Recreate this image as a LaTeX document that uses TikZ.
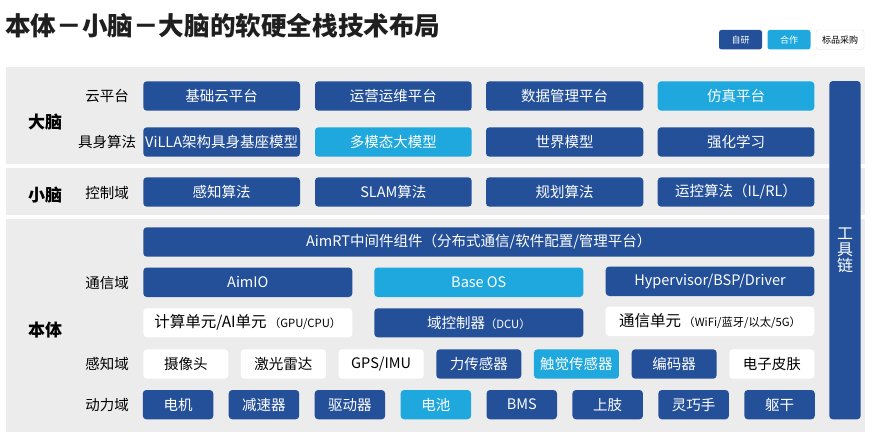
\documentclass[tikz,border=0pt]{standalone}
\usepackage{fontspec}
\setmainfont{Noto Sans CJK SC}
\definecolor{dkblue}{RGB}{36,80,153}
\definecolor{ltblue}{RGB}{31,168,221}
\definecolor{panelgray}{RGB}{236,236,236}
\newcommand\fsz[1]{\fontsize{#1}{#1}\selectfont}
\newcommand\bx[7]{%
  \pgfmathsetmacro\bw{#5-#3}\pgfmathsetmacro\bh{#6-#4}%
  \node[#2, minimum width=\bw pt, minimum height=\bh pt] (#1) at ({(#3+#5)/2},{(#4+#6)/2}) {#7};}
\tikzset{
  box/.style={rounded corners=3.5pt, inner sep=0pt, font=\fsz{14.5}},
  dk/.style={box, fill=dkblue, text=white},
  lt/.style={box, fill=ltblue, text=white},
  wt/.style={box, fill=white, text=black},
  panel/.style={fill=panelgray, draw=none},
  sublabel/.style={font=\fsz{14.5}, text=black, inner sep=0pt},
  biglabel/.style={font=\fsz{17}\bfseries, text=black, inner sep=0pt},
  legend/.style={rounded corners=2.5pt, inner sep=0pt, font=\fsz{9}, minimum width=43pt, minimum height=19.5pt}
}
\begin{document}
\begin{tikzpicture}[x=1pt,y=-1pt]
\useasboundingbox (0,0) rectangle (874,445);
% title
\node[anchor=west, font=\fsz{25.6}\bfseries, text=black!88, inner sep=0pt] (title) at (5,25.5) {本体－小脑－大脑的软硬全栈技术布局};
% legend
\node[legend, fill=dkblue, text=white] (lg1) at (740.5,39.7) {自研};
\node[legend, fill=ltblue, text=white] (lg2) at (789,39.7) {合作};
\node[legend, fill=white, draw=black!12, text=black, minimum width=48pt] (lg3) at (840,39.7) {标品采购};
% panels
\fill[panel] (6,67.3) rectangle (865,164);
\fill[panel] (6,168.3) rectangle (865,215);
\fill[panel] (6,219.3) rectangle (865,432.3);
% big labels
\node[biglabel] (Ldanao) at (45,121.7) {大脑};
\node[biglabel] (Lxiaonao) at (45,195) {小脑};
\node[biglabel] (Lbenti) at (45,330) {本体};
% sub labels
\node[sublabel] (s1) at (107,95.7) {云平台};
\node[sublabel] (s2) at (107,141.7) {具身算法};
\node[sublabel] (s3) at (107,192.5) {控制域};
\node[sublabel] (s4) at (107,283) {通信域};
\node[sublabel] (s5) at (107,364) {感知域};
\node[sublabel] (s6) at (107,405) {动力域};
% row 1
\bx{a1}{dk}{143.3}{81.3}{300}{110.7}{基础云平台}
\bx{a2}{dk}{315}{81.3}{471.7}{110.7}{运营运维平台}
\bx{a3}{dk}{486}{81.3}{643.3}{110.7}{数据管理平台}
\bx{a4}{lt}{657.7}{81.3}{814.3}{110.7}{仿真平台}
% row 2
\bx{b1}{dk}{143.3}{127.3}{300}{156.7}{ViLLA架构具身基座模型}
\bx{b2}{lt}{315}{127.3}{471.7}{156.7}{多模态大模型}
\bx{b3}{dk}{486}{127.3}{643.3}{156.7}{世界模型}
\bx{b4}{dk}{657.7}{127.3}{814.3}{156.7}{强化学习}
% row 3
\bx{c1}{dk}{143.3}{177.3}{300}{206.7}{感知算法}
\bx{c2}{dk}{315}{177.3}{471.7}{206.7}{SLAM算法}
\bx{c3}{dk}{486}{177.3}{643.3}{206.7}{规划算法}
\bx{c4}{dk}{657.7}{177.3}{814.3}{206.7}{运控算法（IL/RL）}
% row 4
\bx{d1}{dk}{143.3}{227.3}{814.3}{256.7}{AimRT中间件组件（分布式通信/软件配置/管理平台）}
% row 5
\bx{e1}{dk}{143.3}{267.5}{352.3}{297}{AimIO}
\bx{e2}{lt}{374.3}{267.5}{583.3}{297}{Base OS}
\bx{e3}{dk}{605.7}{266.5}{814.3}{296}{Hypervisor/BSP/Driver}
% row 6
\bx{f1}{wt}{143.3}{308.3}{352.3}{337.3}{{\fsz{15.5}计算单元/AI单元}\,{\fsz{11.3}（GPU/CPU）}}
\bx{f2}{dk}{374.3}{308.3}{583.3}{337.3}{域控制器{\fsz{11.3}（DCU）}}
\bx{f3}{wt}{605.7}{306.5}{814.3}{336}{{\fsz{15.5}通信单元}\,{\fsz{11.3}（WiFi/蓝牙/以太/5G）}}
% row 7
\foreach \i/\t/\s in {0/摄像头/wt,1/激光雷达/wt,2/GPS\slash IMU/wt,3/力传感器/dk,4/触觉传感器/lt,5/编码器/dk,6/电子皮肤/wt}{
  \pgfmathsetmacro\xa{143.3+\i*97.67}\pgfmathsetmacro\xb{\xa+85}
  \bx{g\i}{\s}{\xa}{349.3}{\xb}{378.7}{\t}
}
% row 8
\foreach \i/\t/\s in {0/电机/dk,1/减速器/dk,2/驱动器/dk,3/电池/lt,4/BMS/dk,5/上肢/dk,6/灵巧手/dk,7/躯干/dk}{
  \pgfmathsetmacro\xa{142.8+\i*85.93}\pgfmathsetmacro\xb{\xa+70.5}
  \bx{h\i}{\s}{\xa}{390}{\xb}{419.3}{\t}
}
% tool chain bar
\bx{tool}{dk}{829.3}{81}{860.7}{419.3}{}
\node[text=white, font=\fsz{16}, align=center, inner sep=0pt] (toolt) at (tool.center) {\baselineskip=17.5pt 工\\具\\链};
\end{tikzpicture}
\end{document}
